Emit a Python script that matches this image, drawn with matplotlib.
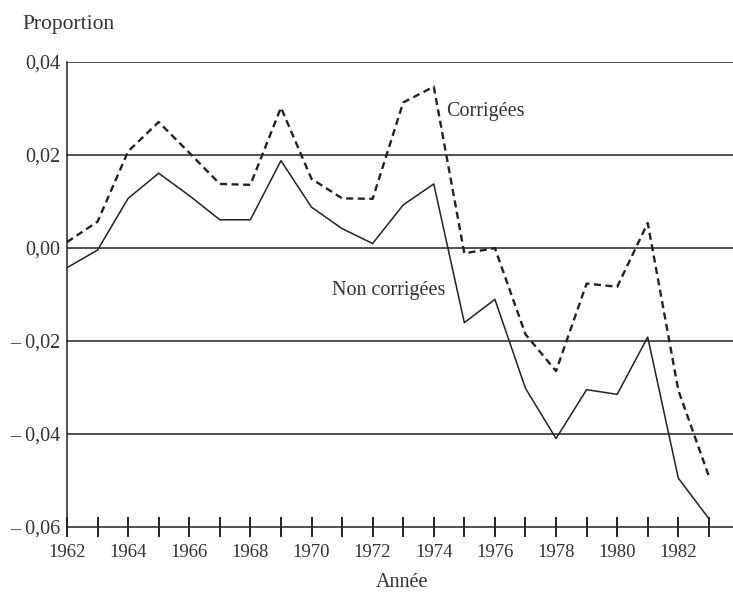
import matplotlib
matplotlib.use("Agg")
import matplotlib.pyplot as plt

plt.rcParams['font.family'] = ['Liberation Serif', 'DejaVu Serif']

years = list(range(1962, 1984))
non_corrigees = [-0.0043, -0.0005, 0.0106, 0.0160, 0.0112, 0.0060, 0.0060, 0.0187,
                 0.0087, 0.0041, 0.0009, 0.0092, 0.0137, -0.0161, -0.0111, -0.0302,
                 -0.0410, -0.0305, -0.0315, -0.0192, -0.0495, -0.0582]
corrigees = [0.0012, 0.0056, 0.0207, 0.0270, 0.0204, 0.0137, 0.0135, 0.0301,
             0.0148, 0.0106, 0.0105, 0.0312, 0.0346, -0.0012, -0.0001, -0.0186,
             -0.0265, -0.0077, -0.0084, 0.0053, -0.0306, -0.0491]
y_ticks = [-0.06, -0.04, -0.02, 0.00, 0.02, 0.04]
y_tick_labels = ["– 0,06", "– 0,04", "– 0,02", "0,00", "0,02", "0,04"]
x_label_years = list(range(1962, 1984, 2))

ink = "#222222"
text_col = "#333333"

fig = plt.figure(figsize=(7.33, 5.92), dpi=100)
ax = fig.add_axes([0.0914, 0.1098, 0.9086, 0.7863])

# horizontal reference lines
for v in y_ticks[1:]:
    ax.axhline(v, color=ink, lw=1.1, zorder=1)

ax.plot(years, non_corrigees, color=ink, lw=1.1, zorder=3)
ax.plot(years, corrigees, color=ink, lw=1.7, dashes=(3.0, 1.9), zorder=3)

ax.set_xlim(1962, 1983.79)
ax.set_ylim(-0.06, 0.04)

for side in ("top", "right"):
    ax.spines[side].set_visible(False)
for side in ("left", "bottom"):
    ax.spines[side].set_color(ink)
    ax.spines[side].set_linewidth(1.1)

ax.set_xticks(years)
ax.set_xticklabels([str(y) if y in x_label_years else "" for y in years])
ax.tick_params(axis="x", direction="inout", length=15, width=1.4, color=ink,
               labelsize=13.5, labelcolor=text_col, pad=5)
ax.set_yticks(y_ticks)
ax.set_yticklabels(y_tick_labels)
ax.tick_params(axis="y", length=0, labelsize=14.5, labelcolor=text_col, pad=5)

ax.text(1974.4, 0.0292, "Corrigées", fontsize=14.5, color=text_col,
        ha="left", va="center")
ax.text(1972.52, -0.0092, "Non corrigées", fontsize=14.5, color=text_col,
        ha="center", va="center")

fig.text(0.031, 0.958, "Proportion", fontsize=15.5, color=text_col,
         ha="left", va="center")
fig.text(0.549, 0.016, "Année", fontsize=14.5, color=text_col,
         ha="center", va="center")

fig.savefig("out.png", dpi=100)
